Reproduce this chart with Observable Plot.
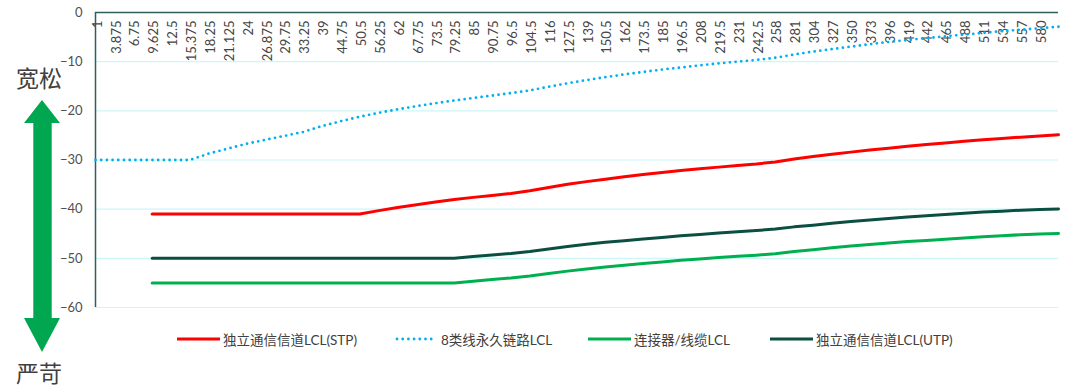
<!DOCTYPE html>
<html>
<head>
<meta charset="utf-8">
<script src="https://cdn.jsdelivr.net/npm/d3@7"></script>
<script src="https://cdn.jsdelivr.net/npm/@observablehq/plot@0.6"></script>
<style>
  body { margin: 0; background: #fff; font-family: Lato, "Noto Sans CJK SC", sans-serif; }
  #wrap { position: relative; width: 1080px; height: 389px; overflow: hidden; }
  #chart { position: absolute; left: 0; top: 0; }
  .side { position: absolute; left: 15px; width: 48px; font-size: 23px; color: #404040; text-align: center; line-height: 1; font-family: "Noto Sans CJK SC", sans-serif; }
  #legend { position: absolute; left: 0; top: 330px; width: 1080px; height: 18px; font-size: 13.5px; color: #404040; font-family: Lato, "Noto Sans CJK SC", sans-serif; }
  .item { position: absolute; top: 0; height: 18px; display: flex; align-items: center; gap: 3px; white-space: nowrap; }
  .item svg { display: block; }
</style>
</head>
<body>
<div id="wrap">
  <div id="chart"></div>
  <svg id="arrow" width="80" height="389" style="position:absolute;left:0;top:0">
    <polygon points="42,100 60,123 51.7,123 51.7,318 60,318 42,352 24,318 33.3,318 33.3,123 24,123" fill="#00A650"/>
  </svg>
  <div class="side" style="top:66px">宽松</div>
  <div class="side" style="top:361px">严苛</div>
  <div id="legend"></div>
</div>
<script>
// Frequency categories (x axis)
const categories = ["1","3.875","6.75","9.625","12.5","15.375","18.25","21.125","24","26.875","29.75","33.25","39","44.75","50.5","56.25","62","67.75","73.5","79.25","85","90.75","96.5","104.5","116","127.5","139","150.5","162","173.5","185","196.5","208","219.5","231","242.5","258","281","304","327","350","373","396","419","442","465","488","511","534","557","580","603"];

// Series names
const seriesNames = ["独立通信信道LCL(STP)", "8类线永久链路LCL", "连接器/线缆LCL", "独立通信信道LCL(UTP)"];

// 独立通信信道LCL(STP)
const stpValues = [null,null,null,-41,-41,-41,-41,-41,-41,-41,-41,-41,-41,-41,-41,-40.3,-39.65,-39.1,-38.55,-38.05,-37.6,-37.2,-36.8,-36.25,-35.6,-34.95,-34.4,-33.9,-33.4,-32.95,-32.55,-32.15,-31.8,-31.45,-31.1,-30.8,-30.4,-29.8,-29.3,-28.85,-28.4,-27.95,-27.6,-27.2,-26.85,-26.55,-26.2,-25.9,-25.65,-25.35,-25.1,-24.85];

// 8类线永久链路LCL
const permanentLinkValues = [-30,-30,-30,-30,-30,-30,-28.7,-27.7,-26.7,-25.9,-25.1,-24.3,-23.1,-22.1,-21.2,-20.4,-19.7,-19.05,-18.45,-17.9,-17.4,-16.9,-16.4,-15.85,-15.1,-14.4,-13.75,-13.15,-12.6,-12.1,-11.6,-11.2,-10.75,-10.35,-10.0,-9.65,-9.2,-8.55,-7.95,-7.45,-6.95,-6.45,-6.0,-5.6,-5.2,-4.85,-4.5,-4.15,-3.8,-3.5,-3.2,-2.9];

// 连接器/线缆LCL
const connectorValues = [null,null,null,-55,-55,-55,-55,-55,-55,-55,-55,-55,-55,-55,-55,-55,-55,-55,-55,-55,-54.65,-54.3,-54.0,-53.6,-53.1,-52.6,-52.15,-51.75,-51.4,-51.05,-50.75,-50.4,-50.15,-49.85,-49.6,-49.35,-49.05,-48.6,-48.25,-47.85,-47.5,-47.2,-46.9,-46.6,-46.35,-46.1,-45.85,-45.6,-45.4,-45.2,-45.05,-44.95];

// 独立通信信道LCL(UTP)
const utpValues = [null,null,null,-50,-50,-50,-50,-50,-50,-50,-50,-50,-50,-50,-50,-50,-50,-50,-50,-50,-49.65,-49.3,-49.0,-48.6,-48.1,-47.6,-47.15,-46.75,-46.4,-46.05,-45.75,-45.4,-45.15,-44.85,-44.6,-44.35,-44.05,-43.6,-43.25,-42.85,-42.5,-42.2,-41.9,-41.6,-41.35,-41.1,-40.85,-40.6,-40.4,-40.2,-40.05,-39.95];

// Y axis ticks
const yTicks = [0, -10, -20, -30, -40, -50, -60];
const gridTicks = [-10, -20, -30, -40, -50, -60];

const colors = ["#FF0000", "#00B0F0", "#00B050", "#0B4F42"];
const allValues = [stpValues, permanentLinkValues, connectorValues, utpValues];
const legendLeft = [177, 395, 588, 770];

const rows = [];
allValues.forEach((vals, s) => vals.forEach((v, i) => rows.push({series: seriesNames[s], x: categories[i], y: v})));

const lineFor = (s, extra = {}) => Plot.line(rows.filter(d => d.series === seriesNames[s]), {
  x: "x", y: "y", stroke: colors[s], strokeWidth: 3, curve: "linear", ...extra
});

const lastCat = categories[categories.length - 1];

const chart = Plot.plot({
  width: 1080,
  height: 325,
  marginTop: 12,
  marginBottom: 18,
  marginLeft: 95,
  marginRight: 22,
  style: {fontFamily: 'Lato, "Noto Sans CJK SC", sans-serif', background: "transparent", overflow: "visible"},
  x: {type: "point", domain: categories, padding: 0, axis: null},
  y: {domain: [-60, 0], axis: null},
  marks: [
    Plot.ruleY(gridTicks, {stroke: "#CCF7F7", strokeWidth: 1.2}),
    Plot.ruleY([0], {stroke: "#2F5E5E", strokeWidth: 1.5}),
    Plot.ruleX([categories[0]], {stroke: "#2F5E5E", strokeWidth: 1.5}),
    Plot.axisY(yTicks, {tickSize: 0, tickPadding: 13, fontSize: 13, fill: "#505050", label: null}),
    Plot.text(categories, {
      x: d => d, frameAnchor: "top", text: d => d === lastCat ? "" : d,
      rotate: -90, textAnchor: "end", lineAnchor: "middle", dy: 8, dx: 2,
      fontSize: 13, fill: "#454545"
    }),
    lineFor(1, {strokeWidth: 2.8, strokeDasharray: "0 5.7", strokeLinecap: "round"}),
    lineFor(0),
    lineFor(3),
    lineFor(2)
  ]
});
document.getElementById("chart").append(chart);

// Legend
const legend = document.getElementById("legend");
seriesNames.forEach((name, s) => {
  const item = document.createElement("div");
  item.className = "item";
  item.style.left = legendLeft[s] + "px";
  const dotted = s === 1;
  item.innerHTML = `<svg width="43" height="10"><line x1="${dotted ? 2 : 0}" y1="5" x2="${dotted ? 41 : 43}" y2="5" stroke="${colors[s]}" stroke-width="${dotted ? 2.8 : 3}" ${dotted ? 'stroke-dasharray="0 5.7" stroke-linecap="round"' : ''}/></svg><span>${name}</span>`;
  legend.append(item);
});
</script>
</body>
</html>
